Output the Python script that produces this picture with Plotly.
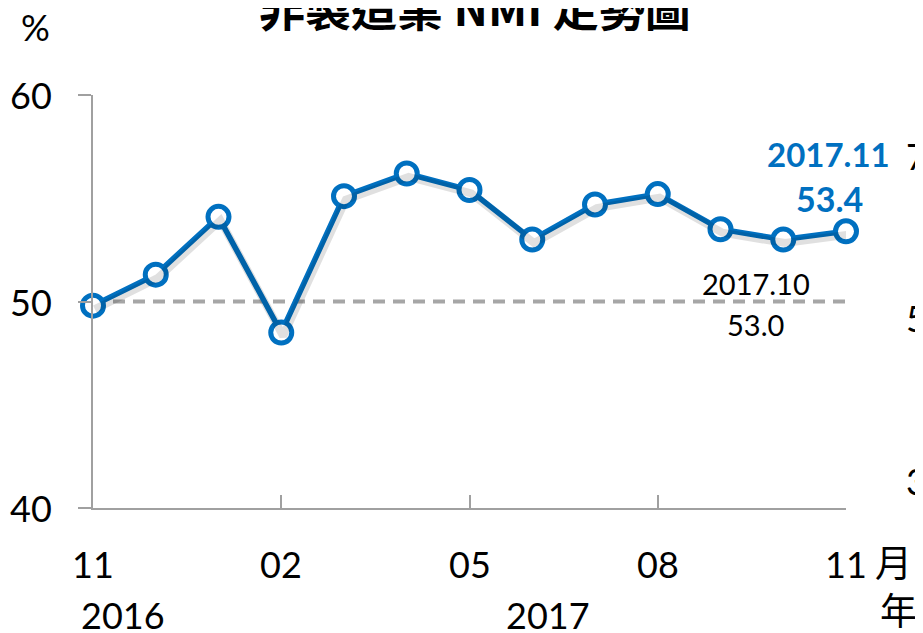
import plotly.graph_objects as go

# ---- data ----
months = ["2016-11", "2016-12", "2017-01", "2017-02", "2017-03", "2017-04", "2017-05",
          "2017-06", "2017-07", "2017-08", "2017-09", "2017-10", "2017-11"]
nmi = [49.8, 51.3, 54.1, 48.5, 55.1, 56.2, 55.4, 53.0, 54.7, 55.2, 53.5, 53.0, 53.4]
threshold = 50
month_tick_idx = [0, 3, 6, 9, 12]
month_tick_text = ["11", "02", "05", "08", "11"]
year_labels = ["2016", "2017"]
y_ticks = [40, 50, 60]
right_ticks = ["70", "50", "30"]
title_text = "非製造業 NMI 走勢圖"

# page body has an 8px margin: draw the figure 8px smaller so it fits the window
W, H = 915, 625
L, T = 85, 87
PW, PH = 753, 413
R, B = W - L - PW, H - T - PH

# helpers: convert target picture pixels to paper coords
def px(x):
    return (x - 93) / PW

def py(y):
    return (508 - y) / PH

BLUE = "#0070C0"
GRAY = "#A6A6A6"
AX = "#A0A0A0"
FONT = "Lato, 'Noto Sans CJK TC', sans-serif"
CJK = "'Noto Sans CJK TC', sans-serif"

xs = list(range(len(nmi)))

fig = go.Figure()

# soft shadow under the line (same data on slightly shifted axes)
fig.add_trace(go.Scatter(
    x=xs, y=nmi, mode="lines", xaxis="x2", yaxis="y2",
    line=dict(color="rgba(0,0,0,0.12)", width=8), hoverinfo="skip", showlegend=False,
))

fig.add_trace(go.Scatter(
    x=xs, y=nmi, mode="lines+markers",
    line=dict(color=BLUE, width=5.5),
    marker=dict(size=21, color="white", line=dict(color=BLUE, width=5)),
    cliponaxis=False, showlegend=False,
))

fig.add_shape(type="line", xref="x", yref="y", x0=0, x1=len(nmi) - 1,
              y0=threshold, y1=threshold, layer="below",
              line=dict(color=GRAY, width=4, dash="12px,8px"))

ann = []
# y tick labels
for v in y_ticks:
    yy = (v - 40) / 20
    ann.append(dict(xref="paper", yref="paper", x=px(54), y=yy, text=str(v),
                    xanchor="right", yanchor="middle", showarrow=False,
                    font=dict(family=FONT, size=36, color="black")))
# x tick labels
for i, t in zip(month_tick_idx, month_tick_text):
    ann.append(dict(xref="x", yref="paper", x=i, y=py(564), text=t,
                    xanchor="center", yanchor="middle", showarrow=False,
                    font=dict(family=FONT, size=36, color="black")))
# year labels
for t, xp in zip(year_labels, [123, 548]):
    ann.append(dict(xref="paper", yref="paper", x=px(xp), y=py(615), text=t,
                    xanchor="center", yanchor="middle", showarrow=False,
                    font=dict(family=FONT, size=36, color="black")))
# unit labels 月 / 年
ann.append(dict(xref="paper", yref="paper", x=px(893), y=py(561), text="月",
                xanchor="center", yanchor="middle", showarrow=False,
                font=dict(family=CJK, size=37, color="black")))
ann.append(dict(xref="paper", yref="paper", x=px(898), y=py(609), text="年",
                xanchor="center", yanchor="middle", showarrow=False,
                font=dict(family=CJK, size=37, color="black")))
# % label
ann.append(dict(xref="paper", yref="paper", x=px(35), y=py(27), text="%",
                xanchor="center", yanchor="middle", showarrow=False,
                font=dict(family=FONT, size=36, color="black")))
# cut-off right axis labels
for t, yp in zip(right_ticks, [156, 318, 481]):
    ann.append(dict(xref="paper", yref="paper", x=px(904), y=py(yp), text=t,
                    xanchor="left", yanchor="middle", showarrow=False,
                    font=dict(family=FONT, size=36, color="black")))
# title (cut at top)
ann.append(dict(xref="paper", yref="paper", x=px(475), y=py(6), text="<b>" + title_text + "</b>",
                xanchor="center", yanchor="middle", showarrow=False,
                font=dict(family=CJK, size=46, color="black")))
# data callouts
last = len(nmi) - 1
ann.append(dict(xref="paper", yref="paper", x=px(828), y=py(154),
                text="<b>" + months[last].replace("-", ".") + "</b>",
                xanchor="center", yanchor="middle", showarrow=False,
                font=dict(family=FONT, size=33, color=BLUE)))
ann.append(dict(xref="paper", yref="paper", x=px(829), y=py(198),
                text="<b>%.1f</b>" % nmi[last],
                xanchor="center", yanchor="middle", showarrow=False,
                font=dict(family=FONT, size=34, color=BLUE)))
ann.append(dict(xref="paper", yref="paper", x=px(756), y=py(283),
                text=months[last - 1].replace("-", "."),
                xanchor="center", yanchor="middle", showarrow=False,
                font=dict(family=FONT, size=29, color="black")))
ann.append(dict(xref="paper", yref="paper", x=px(755), y=py(324),
                text="%.1f" % nmi[last - 1],
                xanchor="center", yanchor="middle", showarrow=False,
                font=dict(family=FONT, size=29, color="black")))

fig.update_layout(
    width=W, height=H,
    margin=dict(l=L, r=R, t=T, b=B),
    paper_bgcolor="white", plot_bgcolor="white",
    showlegend=False,
    annotations=ann,
    xaxis=dict(range=[0, 12], showgrid=False, zeroline=False,
               tickvals=month_tick_idx, showticklabels=False,
               ticks="inside", ticklen=13, tickwidth=1.5, tickcolor=AX,
               showline=True, linecolor=AX, linewidth=1.5),
    yaxis=dict(range=[40, 60], showgrid=False, zeroline=False,
               tickvals=y_ticks, showticklabels=False,
               ticks="outside", ticklen=13, tickwidth=1.5, tickcolor=AX,
               showline=True, linecolor=AX, linewidth=1.5),
    xaxis2=dict(range=[-0.03, 11.97], overlaying="x", visible=False),
    yaxis2=dict(range=[40.17, 60.17], overlaying="y", visible=False),
)

fig.write_html("out.html")
